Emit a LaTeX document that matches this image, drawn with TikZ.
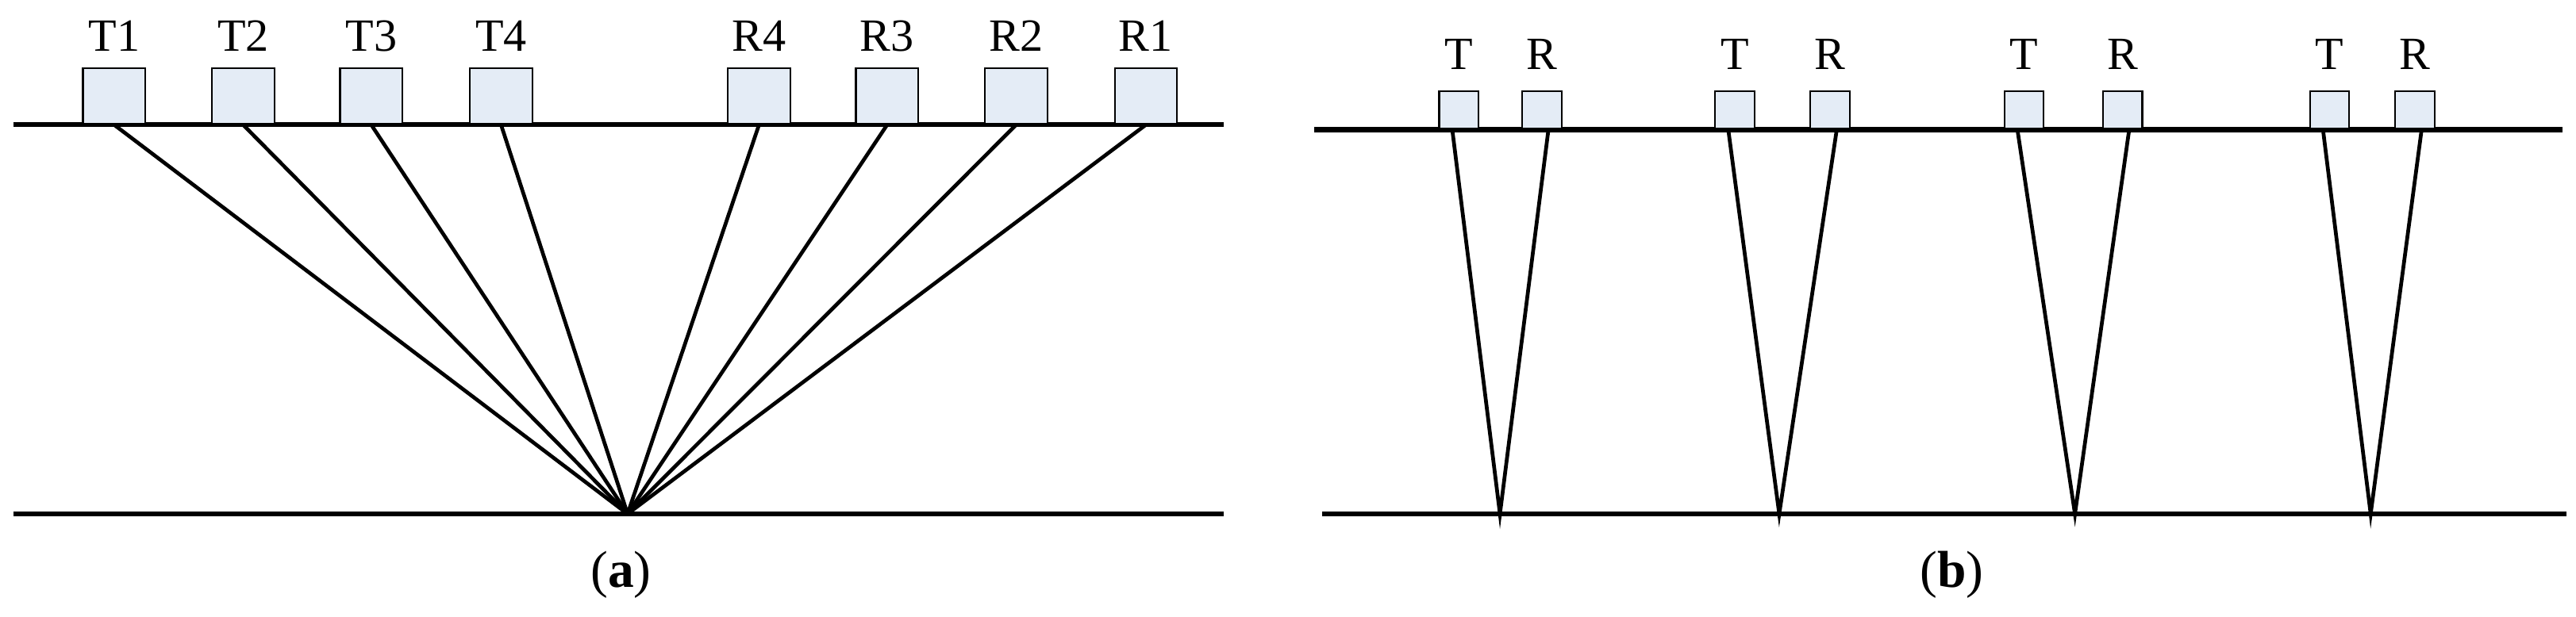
\documentclass[tikz,border=0pt]{standalone}
\usepackage{fontspec}
\setmainfont{Liberation Serif}
\definecolor{boxfill}{HTML}{E4ECF6}
\begin{document}
\begin{tikzpicture}[x=1mm,y=-1mm,
  box/.style={draw=black,line width=0.3pt,fill=boxfill,minimum width=3.8mm,minimum height=3.4mm,inner sep=0pt,anchor=south},
  sbox/.style={box,minimum width=2.4mm,minimum height=2.3mm},
  lbl/.style={font=\fontsize{8}{9}\selectfont,inner sep=0pt},
  base/.style={line width=0.85pt},
  ray/.style={line width=0.65pt},
  captxt/.style={font=\fontsize{9}{10}\selectfont,inner sep=0pt}]
\useasboundingbox (0,0) rectangle (156.8,37.58);
% panel a
\coordinate (aL1) at (0.8,7.6); \coordinate (aR1) at (74.5,7.6);
\coordinate (aL2) at (0.8,31.3); \coordinate (aR2) at (74.5,31.3);
\draw[base] (aL1) -- (aR1);
\draw[base] (aL2) -- (aR2);
\coordinate (P) at (38.2,31.3);
\foreach \n/\x in {T1/6.95,T2/14.8,T3/22.6,T4/30.5,R4/46.2,R3/54.0,R2/61.85,R1/69.75}{
  \node[box] (\n) at (\x,7.6) {};
  \node[lbl] (l\n) at (\x,2.2) {\n};
}
\foreach \n in {T1,T2,T3,T4,R4,R3,R2,R1}{
  \draw[ray] (\n.south) -- (P);
}
\node[captxt] (ca) at (37.8,35.0) {(\textbf{a})};
% panel b
\coordinate (bL1) at (80.0,7.9); \coordinate (bR1) at (156.0,7.9);
\coordinate (bL2) at (80.5,31.3); \coordinate (bR2) at (156.2,31.3);
\draw[base] (bL1) -- (bR1);
\draw[base] (bL2) -- (bR2);
\foreach \i/\t/\r/\a in {1/88.8/93.85/91.3,2/105.6/111.4/108.3,3/123.2/129.2/126.3,4/141.8/147.0/144.3}{
  \node[sbox] (T\i) at (\t,7.9) {};
  \node[sbox] (R\i) at (\r,7.9) {};
  \node[lbl] (lT\i) at (\t,3.3) {T};
  \node[lbl] (lR\i) at (\r,3.3) {R};
  \coordinate (A\i) at (\a,31.3);
  \draw[ray] ([xshift=-0.4mm]T\i.south) -- (A\i) -- ([xshift=0.4mm]R\i.south);
}
\node[captxt] (cb) at (118.8,35.0) {(\textbf{b})};
\end{tikzpicture}
\end{document}
